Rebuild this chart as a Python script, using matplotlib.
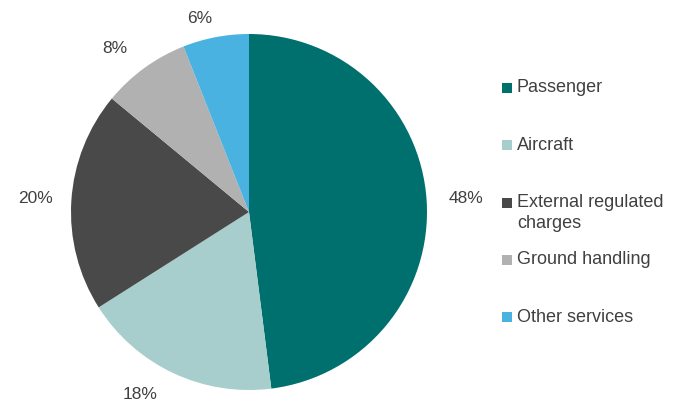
import numpy as np
import matplotlib.pyplot as plt
from matplotlib.patches import Rectangle

plt.rcParams['font.family'] = ['Liberation Sans', 'DejaVu Sans']

categories = ['Passenger', 'Aircraft', 'External regulated\ncharges', 'Ground handling', 'Other services']
shares = [48, 18, 20, 8, 6]
colors = ['#00706e', '#a7cdcd', '#494949', '#b1b1b1', '#4ab2e0']

W, H = 683, 405
fig = plt.figure(figsize=(W / 100, H / 100), dpi=100)

# pie centre and radius in pixels
cx, cy, r = 249, 212, 178
ax = fig.add_axes([(cx - r) / W, (H - cy - r) / H, 2 * r / W, 2 * r / H])
wedges, texts = ax.pie(shares, colors=colors, startangle=90, counterclock=False,
                       radius=1, labels=[f'{v}%' for v in shares], labeldistance=1.2,
                       textprops=dict(fontsize=12.5, color='#404040'),
                       wedgeprops=dict(linewidth=0))
ax.set_xlim(-1, 1)
ax.set_ylim(-1, 1)
ax.set_aspect('equal')

# nudge a few labels
offsets = {0: (0.02, 0.0), 1: (-0.1, 0.06), 3: (-0.05, -0.05), 4: (-0.05, -0.09)}
for i, t in enumerate(texts):
    t.set_ha('center')
    t.set_va('center')
    if i in offsets:
        x, y = t.get_position()
        t.set_position((x + offsets[i][0], y + offsets[i][1]))

# legend drawn by hand: first text line of each entry is evenly spaced
y0, step, line_h = 88, 57.3, 21
for i, (lab, c) in enumerate(zip(categories, colors)):
    y = y0 + i * step
    fig.patches.append(Rectangle((502 / W, (H - y - 5) / H), 10 / W, 10 / H,
                                 transform=fig.transFigure, facecolor=c, edgecolor='none'))
    for k, line in enumerate(lab.split('\n')):
        fig.text(517 / W, (H - y - k * line_h) / H, line, fontsize=13, color='#404040',
                 ha='left', va='center', transform=fig.transFigure)

fig.savefig('out.png', dpi=100)
